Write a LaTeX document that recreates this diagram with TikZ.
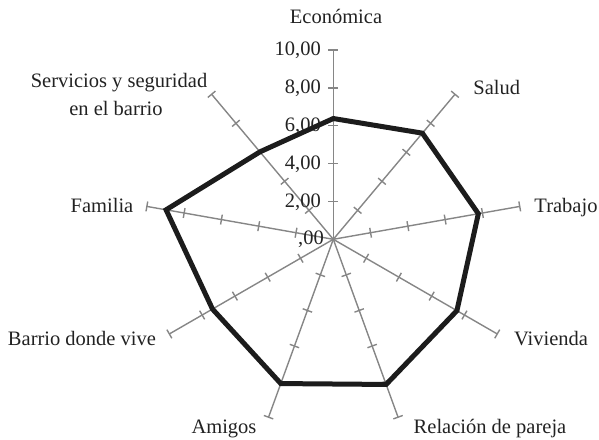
\documentclass[tikz,border=0pt]{standalone}
\usepackage{fontspec}
\setmainfont{Liberation Serif}
\usetikzlibrary{calc}
\definecolor{axisgray}{HTML}{868686}
\definecolor{polyblack}{HTML}{1C1C1C}
\definecolor{txt}{HTML}{222222}
\begin{document}
\begin{tikzpicture}[x=1pt,y=1pt,
  axisline/.style={draw=axisgray,line width=1.4pt},
  tickline/.style={draw=axisgray,line width=1.4pt},
  datapoly/.style={draw=polyblack,line width=5pt,line join=miter},
  lbl/.style={text=txt,font=\fontsize{20.5}{24}\selectfont,inner sep=0pt,anchor=base},
  val/.style={text=txt,font=\fontsize{20.5}{24}\selectfont,inner sep=0pt,anchor=base east}]
\useasboundingbox (0,0) rectangle (599,439);
\coordinate (O) at (333.3,199.7);
\foreach \name/\ang/\val in {eco/90/6.38, sal/50/7.32, tra/10/7.78, viv/-30/7.54, rel/-70/8.16, ami/-110/8.11, bar/-150/7.37, fam/170/8.97, ser/130/6.03} {
  \coordinate (end-\name) at ($(O)+(\ang:189.3)$);
  \draw[axisline] (O) -- (end-\name);
  \foreach \k in {1,...,5} {
    \draw[tickline] ($(O)+(\ang:\k*37.86)+(\ang+90:5)$) -- ($(O)+(\ang:\k*37.86)+(\ang-90:5)$);
  }
  \coordinate (p-\name) at ($(O)+(\ang:\val*18.93)$);
}
% value labels
\node[val] (v0) at (324,194) {,00};
\node[val] (v2) at (321,231) {2,00};
\node[val] (v4) at (321,269) {4,00};
\node[val] (v6) at (321,307) {6,00};
\node[val] (v8) at (321,345) {8,00};
\node[val] (v10) at (321,383) {10,00};
% data polygon
\draw[datapoly] (p-eco) -- (p-sal) -- (p-tra) -- (p-viv) -- (p-rel) -- (p-ami) -- (p-bar) -- (p-fam) -- (p-ser) -- cycle;
% category labels
\node[lbl] (l-eco) at (336,415.7) {Económica};
\node[lbl] (l-sal) at (496.7,344) {Salud};
\node[lbl] (l-tra) at (566,226.7) {Trabajo};
\node[lbl] (l-viv) at (551,93.3) {Vivienda};
\node[lbl] (l-rel) at (490,5.7) {Relación de pareja};
\node[lbl] (l-ami) at (224,5.7) {Amigos};
\node[lbl] (l-bar) at (82,93.3) {Barrio donde vive};
\node[lbl] (l-fam) at (102,226.7) {Familia};
\node[lbl] (l-ser1) at (119,351.7) {Servicios y seguridad};
\node[lbl] (l-ser2) at (116,323) {en el barrio};
\end{tikzpicture}
\end{document}
